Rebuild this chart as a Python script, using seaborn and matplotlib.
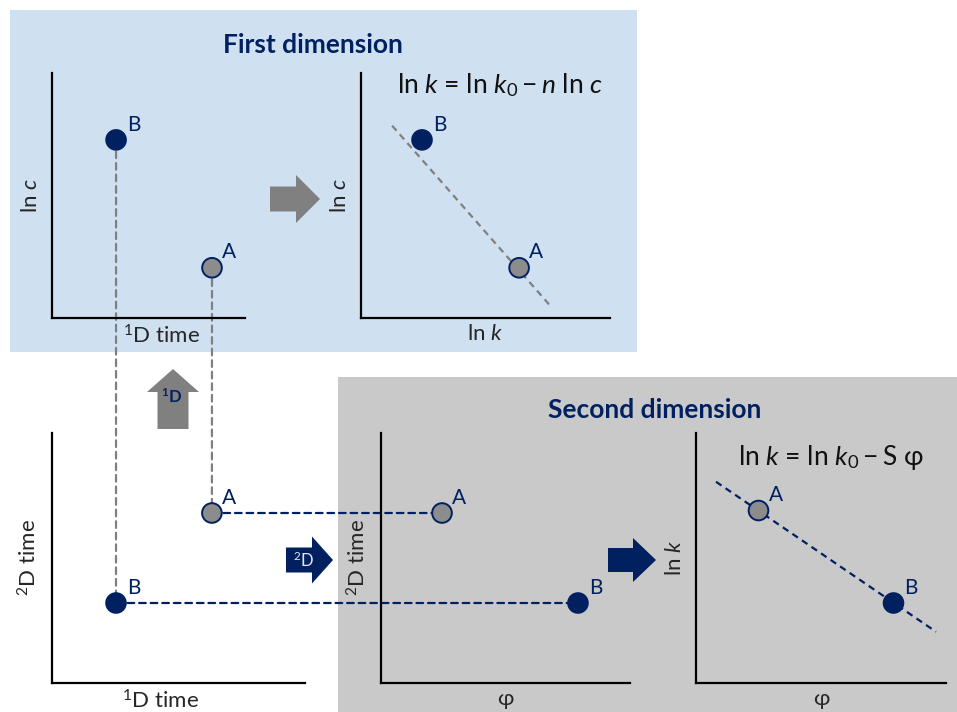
import matplotlib
matplotlib.use("Agg")
import matplotlib.pyplot as plt
import seaborn as sns
import pandas as pd
from matplotlib.patches import Rectangle, FancyArrow, ConnectionPatch

# ---------------- data (panel units 0..10) ----------------
peaks = ["A", "B"]
# Panel 1: ln c vs 1D time
p1_time1d = [8.29, 3.32]
p1_lnc = [2.05, 7.27]
# Panel 2: ln c vs ln k  (ln k = ln k0 - n ln c)
p2_lnk = [6.35, 2.45]
p2_lnc = [2.05, 7.27]
p2_fit_x = [1.25, 7.6]
p2_fit_y = [7.85, 0.5]
# Panel 3: 2D time vs 1D time
p3_time1d = [6.32, 2.53]
p3_time2d = [6.8, 3.2]
# Panel 4: 2D time vs phi
p4_phi = [2.45, 7.91]
p4_time2d = [6.8, 3.2]
# Panel 5: ln k vs phi  (ln k = ln k0 - S phi)
p5_phi = [2.5, 7.9]
p5_lnk = [6.9, 3.2]
p5_fit_x = [0.8, 9.6]
p5_fit_y = [8.05, 2.05]

titles = ["First dimension", "Second dimension"]
eq1 = r"ln $k$ = ln $k_{\mathit{0}} - n$ ln $c$"
eq2 = r"ln $k$ = ln $k_{\mathit{0}} - \mathrm{S}$ φ"
lab_t1 = r"$^{1}$D time"
lab_t2 = r"$^{2}$D time"

# ---------------- style ----------------
sns.set_theme(style="white")
FAM = ["Lato", "Open Sans", "DejaVu Sans"]
plt.rcParams["font.family"] = FAM
plt.rcParams["mathtext.fontset"] = "custom"
plt.rcParams["mathtext.rm"] = "Lato"
plt.rcParams["mathtext.it"] = "Lato:italic"
plt.rcParams["mathtext.bf"] = "Lato:bold"

NAVY = "#002060"
GRAY = "#808080"
MARK_GRAY = "#8c8c8c"
BLUE_BG = "#cfe0f1"
GRAY_BG = "#c9c9c9"

W, H = 957, 712
fig = plt.figure(figsize=(W / 100, H / 100), dpi=100)
fig.patch.set_facecolor("white")

bg = fig.add_axes([0, 0, 1, 1])
bg.set_xlim(0, W)
bg.set_ylim(H, 0)
bg.axis("off")
bg.set_zorder(0)

bg.add_patch(Rectangle((10, 10), 627, 342, facecolor=BLUE_BG, edgecolor="none"))
bg.add_patch(Rectangle((338, 377), 619, 335, facecolor=GRAY_BG, edgecolor="none"))

bg.text(313, 45, titles[0], ha="center", va="center", fontsize=19,
        fontweight="bold", color=NAVY)
bg.text(655, 410, titles[1], ha="center", va="center", fontsize=19,
        fontweight="bold", color=NAVY)

# arrows
bg.add_patch(FancyArrow(270, 199, 50, 0, width=25, head_width=48, head_length=24,
                        length_includes_head=True, color=GRAY, lw=0))
bg.add_patch(FancyArrow(173, 429, 0, -60, width=31, head_width=52, head_length=23,
                        length_includes_head=True, color=GRAY, lw=0))
bg.text(172, 397, r"$\mathbf{^{1}D}$", ha="center", va="center", fontsize=12,
        color=NAVY)
bg.add_patch(FancyArrow(286, 560, 47, 0, width=25, head_width=47, head_length=21,
                        length_includes_head=True, color=NAVY, lw=0))
bg.text(304, 560, r"$^{2}$D", ha="center", va="center", fontsize=12, color="#e8e8f0")
bg.add_patch(FancyArrow(608, 560, 48, 0, width=24, head_width=44, head_length=23,
                        length_includes_head=True, color=NAVY, lw=0))


def add_panel(x0, x1, ytop, ybot):
    ax = fig.add_axes([x0 / W, 1 - ybot / H, (x1 - x0) / W, (ybot - ytop) / H])
    ax.set_xlim(0, 10)
    ax.set_ylim(0, 10)
    ax.patch.set_alpha(0)
    for s in ["top", "right"]:
        ax.spines[s].set_visible(False)
    for s in ["left", "bottom"]:
        ax.spines[s].set_linewidth(1.6)
        ax.spines[s].set_color("black")
    ax.set_xticks([])
    ax.set_yticks([])
    ax.set_zorder(2)
    return ax


ax1 = add_panel(52, 245, 73, 318)
ax2 = add_panel(361, 610, 73, 318)
ax3 = add_panel(52, 305, 433, 683)
ax4 = add_panel(381, 630, 433, 683)
ax5 = add_panel(696, 946, 433, 683)

# fit lines
sns.lineplot(x=p2_fit_x, y=p2_fit_y, ax=ax2, color=GRAY, lw=1.6,
             linestyle=(0, (3, 2.2)), zorder=1)
sns.lineplot(x=p5_fit_x, y=p5_fit_y, ax=ax5, color=NAVY, lw=1.6,
             linestyle=(0, (3, 2.2)), zorder=1)

# connectors between panels
def connect(axA, xa, ya, axB, xb, yb, color):
    con = ConnectionPatch(xyA=(xa, ya), coordsA="data", axesA=axA,
                          xyB=(xb, yb), coordsB="data", axesB=axB,
                          color=color, lw=1.6, linestyle=(0, (3, 2.2)))
    bg.add_artist(con)

for i in range(2):
    connect(ax1, p1_time1d[i], p1_lnc[i], ax3, p3_time1d[i], p3_time2d[i], GRAY)
    connect(ax3, p3_time1d[i], p3_time2d[i], ax4, p4_phi[i], p4_time2d[i], NAVY)

# points
pal = {"A": MARK_GRAY, "B": NAVY}
for ax, xs, ys in [(ax1, p1_time1d, p1_lnc), (ax2, p2_lnk, p2_lnc),
                   (ax3, p3_time1d, p3_time2d), (ax4, p4_phi, p4_time2d),
                   (ax5, p5_phi, p5_lnk)]:
    df = pd.DataFrame({"x": xs, "y": ys, "peak": peaks})
    sns.scatterplot(data=df, x="x", y="y", hue="peak", palette=pal, ax=ax,
                    s=200, edgecolor=NAVY, linewidth=1.4, legend=False, zorder=5,
                    clip_on=False)
    for xv, yv, lab in zip(xs, ys, peaks):
        ax.annotate(lab, (xv, yv), xytext=(12.5, 11), textcoords="offset points",
                    ha="center", va="center", fontsize=15, color=NAVY)

# axis labels
LBL = 16
ax1.set_ylabel(r"ln $c$", fontsize=LBL, labelpad=8, visible=True)
ax1.set_xlabel(lab_t1, fontsize=LBL, visible=True)
ax1.xaxis.set_label_coords(0.565, -0.025, transform=ax1.transAxes)
ax1.xaxis.label.set_va("top")
ax2.set_ylabel(r"ln $c$", fontsize=LBL, labelpad=8, visible=True)
ax2.set_xlabel(r"ln $k$", fontsize=LBL, labelpad=4, visible=True)
ax3.set_ylabel(lab_t2, fontsize=LBL, labelpad=8, visible=True)
ax3.set_xlabel(lab_t1, fontsize=LBL, visible=True)
ax3.xaxis.set_label_coords(0.43, -0.025, transform=ax3.transAxes)
ax3.xaxis.label.set_va("top")
ax4.set_ylabel(lab_t2, fontsize=LBL, labelpad=8, visible=True)
ax4.set_xlabel("φ", fontsize=LBL, labelpad=4, visible=True)
ax5.set_ylabel(r"ln $k$", fontsize=LBL, labelpad=8, visible=True)
ax5.set_xlabel("φ", fontsize=LBL, labelpad=4, visible=True)

ax2.text(0.56, 0.95, eq1, transform=ax2.transAxes, ha="center", va="center",
         fontsize=19, color="#111111")
ax5.text(0.54, 0.9, eq2, transform=ax5.transAxes, ha="center", va="center",
         fontsize=19, color="#111111")

fig.savefig("out.png", dpi=100)
